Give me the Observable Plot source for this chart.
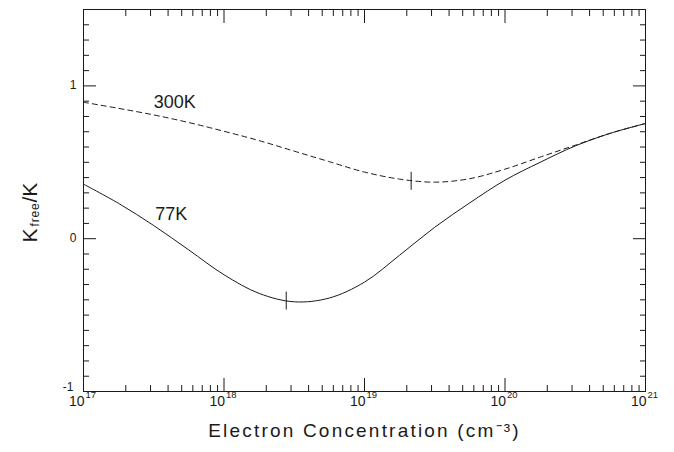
<!DOCTYPE html>
<html><head><meta charset="utf-8">
<script src="https://cdn.jsdelivr.net/npm/d3@7"></script>
<script src="https://cdn.jsdelivr.net/npm/@observablehq/plot@0.6"></script>
<style>
body{margin:0;background:#fff;}
[aria-description="xtitle"], [aria-description="xtitle"] text{letter-spacing:2.2px;}
[aria-description="ylabel-free"], [aria-description="ylabel-free"] text{letter-spacing:0.8px;}
</style>
</head><body><div id="chart"></div>
<script>
// 300 K curve (dashed): log10 of electron concentration, Kfree/K
const logN300 = [17.00, 17.25, 17.50, 17.75, 18.00, 18.25, 18.50, 18.75, 19.00, 19.25, 19.50, 19.75, 20.00, 20.25, 20.50, 20.75, 21.00];
const k300    = [0.893, 0.853, 0.810, 0.760, 0.703, 0.642, 0.573, 0.504, 0.436, 0.390, 0.370, 0.393, 0.455, 0.534, 0.612, 0.690, 0.754];
// 77 K curve (solid)
const logN77 = [17.00, 17.25, 17.50, 17.75, 18.00, 18.25, 18.50, 18.75, 19.00, 19.25, 19.50, 19.75, 20.00, 20.25, 20.50, 20.75, 21.00];
const k77    = [0.357, 0.231, 0.086, -0.074, -0.236, -0.358, -0.413, -0.388, -0.284, -0.108, 0.075, 0.235, 0.383, 0.500, 0.607, 0.690, 0.754];
// curve labels
const seriesLabels = ["300K", "77K"];
const labelLogN = [17.50, 17.51];
const labelK = [0.892, 0.160];
// vertical marks on the curves
const markerLogN = [18.443, 19.332];
const markerK = [-0.405, 0.379];
// axes
const decades = [17, 18, 19, 20, 21];
const minorMult = [2, 3, 4, 5, 6, 7, 8, 9];
const yMajorTicks = [-1, 0, 1];
const yUpperLabels = [0, 1];
const yLowerLabels = [-1];
const yMinorTicks = [-0.9, -0.8, -0.7, -0.6, -0.5, -0.4, -0.3, -0.2, -0.1, 0.1, 0.2, 0.3, 0.4, 0.5, 0.6, 0.7, 0.8, 0.9, 1.1, 1.2, 1.3, 1.4];
const xTitle = "Electron Concentration (cm\u207B\u00B3)";

const d300 = logN300.map((e, i) => ({n: 10 ** e, k: k300[i]}));
const d77 = logN77.map((e, i) => ({n: 10 ** e, k: k77[i]}));
const labels = seriesLabels.map((t, i) => ({t, n: 10 ** labelLogN[i], k: labelK[i]}));
const markers = markerLogN.map((e, i) => ({n: 10 ** e, k: markerK[i]}));
const xMajor = decades.map(e => 10 ** e);
const xMinor = decades.slice(0, -1).flatMap(e => minorMult.map(m => m * 10 ** e));

const vbar = {draw(context, size) { const r = Math.sqrt(size / Math.PI); context.moveTo(0, -r); context.lineTo(0, r); }};
const ink = "#1a1a1a";
const blank = () => "";

const chart = Plot.plot({
  width: 674, height: 452,
  marginLeft: 83, marginRight: 29, marginTop: 9, marginBottom: 61,
  style: {fontFamily: "'Liberation Sans', Arial, sans-serif", color: ink, background: "#fff"},
  x: {type: "log", domain: [1e17, 1e21]},
  y: {domain: [-1, 1.5]},
  marks: [
    Plot.axisX(xMajor, {anchor: "bottom", tickSize: -13, tickFormat: blank, label: null, stroke: ink}),
    Plot.axisX(xMinor, {anchor: "bottom", tickSize: -6, tickFormat: blank, label: null, stroke: ink}),
    Plot.axisX(xMajor, {anchor: "top", tickSize: -13, tickFormat: blank, label: null, stroke: ink}),
    Plot.axisX(xMinor, {anchor: "top", tickSize: -6, tickFormat: blank, label: null, stroke: ink}),
    Plot.axisY(yMajorTicks, {anchor: "left", tickSize: -13, tickFormat: blank, label: null, stroke: ink}),
    Plot.axisY(yMinorTicks, {anchor: "left", tickSize: -6, tickFormat: blank, label: null, stroke: ink}),
    Plot.axisY(yMajorTicks, {anchor: "right", tickSize: -13, tickFormat: blank, label: null, stroke: ink}),
    Plot.axisY(yMinorTicks, {anchor: "right", tickSize: -6, tickFormat: blank, label: null, stroke: ink}),
    Plot.axisY(yUpperLabels, {anchor: "left", tickSize: 0, tickPadding: 7, fontSize: 12, dy: -1, tickFormat: d => String(d), label: null, fill: ink}),
    Plot.axisY(yLowerLabels, {anchor: "left", tickSize: 0, tickPadding: 10, fontSize: 12, dy: -4, tickFormat: d => String(d), label: null, fill: ink}),
    Plot.text(xMajor, {x: d => d, frameAnchor: "bottom", text: () => "10", textAnchor: "end", dx: 1, dy: 14, fontSize: 14, fill: ink}),
    Plot.text(decades, {x: e => 10 ** e, frameAnchor: "bottom", text: e => String(e), textAnchor: "start", dx: 2, dy: 6, fontSize: 9.5, fill: ink}),
    Plot.text([xTitle], {frameAnchor: "bottom", text: d => d, dy: 45, fontSize: 19, fill: ink, ariaDescription: "xtitle"}),
    Plot.text(["K"], {frameAnchor: "left", text: d => d, rotate: -90, textAnchor: "start", dx: -53, dy: 42, fontSize: 21, fill: ink}),
    Plot.text(["free"], {frameAnchor: "left", text: d => d, rotate: -90, textAnchor: "start", dx: -48, dy: 26, fontSize: 12, fill: ink, ariaDescription: "ylabel-free"}),
    Plot.text(["/K"], {frameAnchor: "left", text: d => d, rotate: -90, textAnchor: "start", dx: -53, dy: 2, fontSize: 21, fill: ink}),
    Plot.line(d300, {x: "n", y: "k", stroke: ink, strokeWidth: 1, strokeDasharray: "5,4", curve: "catmull-rom"}),
    Plot.line(d77, {x: "n", y: "k", stroke: ink, strokeWidth: 1, curve: "catmull-rom"}),
    Plot.dot(markers, {x: "n", y: "k", r: 9, symbol: vbar, stroke: ink, fill: "none", strokeWidth: 1}),
    Plot.text(labels, {x: "n", y: "k", text: "t", textAnchor: "start", fontSize: 18, fill: ink}),
    Plot.frame({stroke: ink, strokeWidth: 1})
  ]
});
document.getElementById("chart").append(chart);
</script>
</body></html>
